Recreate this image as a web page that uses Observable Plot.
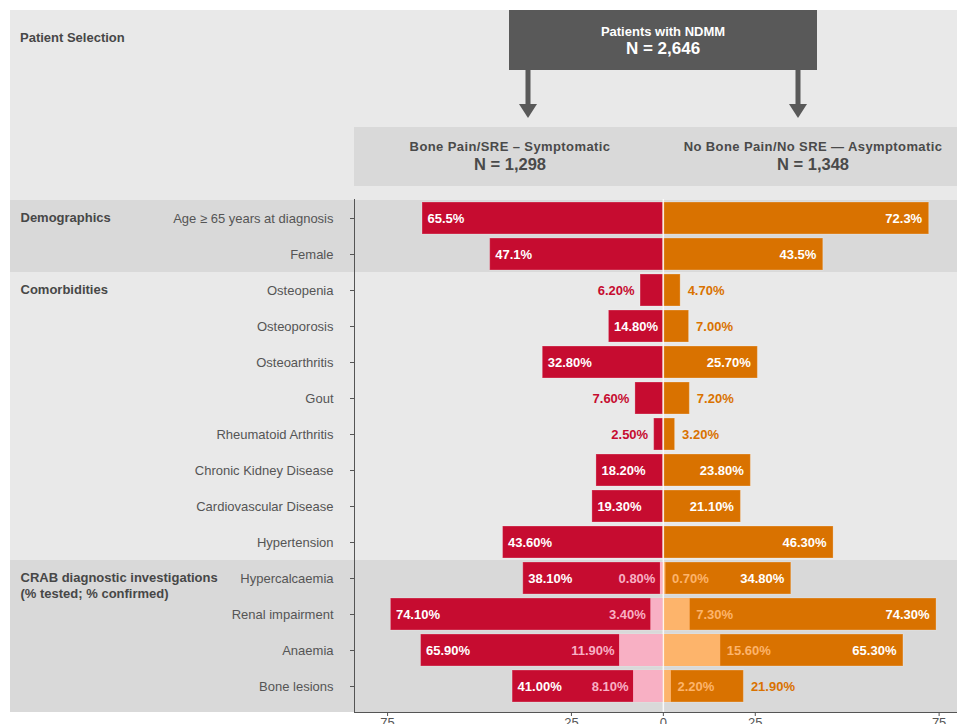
<!DOCTYPE html>
<html>
<head>
<meta charset="utf-8">
<script src="https://cdn.jsdelivr.net/npm/d3@7"></script>
<script src="https://cdn.jsdelivr.net/npm/@observablehq/plot@0.6"></script>
<style>
  html, body { margin: 0; padding: 0; background: #fff; overflow: hidden; }
  #wrap { position: relative; width: 957px; height: 724px; overflow: hidden; background: #fff;
          font-family: "Liberation Sans", Arial, Helvetica, sans-serif; color: #4a4a4a; }
  .abs { position: absolute; }
  .hdr { position: absolute; font-weight: bold; text-align: center; white-space: nowrap; transform: translate(-50%, -50%); }
</style>
</head>
<body>
<div id="wrap">
  <div class="abs" id="panel" style="left:10px; top:10px; width:947px; height:702px; background:#e9e9e9;"></div>
  <div id="bands"></div>
  <div class="abs" style="left:20px; top:37px; transform:translateY(-50%); font-weight:bold; font-size:13px; color:#474747;">Patient Selection</div>
  <div class="abs" style="left:509px; top:10px; width:308px; height:60px; background:#595959;"></div>
  <div class="hdr" style="left:663px; top:31px; color:#fff; font-size:13px;">Patients with NDMM</div>
  <div class="hdr" style="left:663px; top:49px; color:#fff; font-size:17px;">N = 2,646</div>
  <svg class="abs" style="left:0; top:0;" width="957" height="130">
    <rect x="525.5" y="70" width="5" height="35" fill="#595959"></rect>
    <polygon points="519,104 537,104 528,118" fill="#595959"></polygon>
    <rect x="795.5" y="70" width="5" height="35" fill="#595959"></rect>
    <polygon points="789,104 807,104 798,118" fill="#595959"></polygon>
  </svg>
  <div class="abs" style="left:354px; top:127px; width:603px; height:59px; background:#d9d9d9;"></div>
  <div class="hdr" style="left:510px; top:146px; font-size:13px; letter-spacing:0.4px;">Bone Pain/SRE – Symptomatic</div>
  <div class="hdr" style="left:510px; top:164px; font-size:16.5px;">N = 1,298</div>
  <div class="hdr" style="left:813px; top:146px; font-size:13px; letter-spacing:0.4px;">No Bone Pain/No SRE — Asymptomatic</div>
  <div class="hdr" style="left:813px; top:164px; font-size:16.5px;">N = 1,348</div>
  <div class="abs" id="chart" style="left:0; top:190px;"></div>
</div>
<script>
// ---------- data ----------
const groups = ["Demographics", "Comorbidities", "CRAB diagnostic investigations\n(% tested; % confirmed)"];
const rows = ["Age ≥ 65 years at diagnosis", "Female",
  "Osteopenia", "Osteoporosis", "Osteoarthritis", "Gout", "Rheumatoid Arthritis",
  "Chronic Kidney Disease", "Cardiovascular Disease", "Hypertension",
  "Hypercalcaemia", "Renal impairment", "Anaemia", "Bone lesions"];
const rowGroup = [0, 0, 1, 1, 1, 1, 1, 1, 1, 1, 2, 2, 2, 2];
const symptomatic = [65.5, 47.1, 6.2, 14.8, 32.8, 7.6, 2.5, 18.2, 19.3, 43.6, 38.1, 74.1, 65.9, 41.0];
const asymptomatic = [72.3, 43.5, 4.7, 7.0, 25.7, 7.2, 3.2, 23.8, 21.1, 46.3, 34.8, 74.3, 65.3, 21.9];
const symptomaticConfirmed = [null, null, null, null, null, null, null, null, null, null, 0.8, 3.4, 11.9, 8.1];
const asymptomaticConfirmed = [null, null, null, null, null, null, null, null, null, null, 0.7, 7.3, 15.6, 2.2];
const xTicks = [-75, -25, 0, 25, 75];

// ---------- style ----------
const RED = "#c60c30", ORANGE = "#d97200", PINK = "#f8b0c4", LORANGE = "#fdb46b";
const TXT = "#555";
const W = 957, SVGH = 534;
const M = {top: 9, right: 0, bottom: 12, left: 354};
const xDomain = [-84, 80];
const k = (W - M.left - M.right) / (xDomain[1] - xDomain[0]);
const FS = 13;

const data = rows.map((row, i) => ({
  row, i, group: rowGroup[i],
  sym: symptomatic[i], asym: asymptomatic[i],
  sc: symptomaticConfirmed[i], ac: asymptomaticConfirmed[i]
}));
const fmt = (v, g) => v.toFixed(g === 0 ? 1 : 2) + "%";
const textW = s => [...s].reduce((w, c) => w + (c === "%" ? 0.889 : c === "." ? 0.278 : 0.556), 0) * FS;

function mainLabels(side) {
  return data.map(d => {
    const v = side < 0 ? d.sym : d.asym;
    const c = side < 0 ? d.sc : d.ac;
    const t = fmt(v, d.group);
    const seg = (v - (c ?? 0)) * k;
    const need = textW(t) + 8 + (c != null ? textW(fmt(c, d.group)) + 8 : 0);
    return {row: d.row, x: side * v, text: t, inside: seg >= need};
  });
}
const symL = mainLabels(-1), asymL = mainLabels(1);
const crab = data.filter(d => d.sc != null);

const groupFirst = groups.map((g, gi) => rows[rowGroup.indexOf(gi)]);
const groupData = groups.map((g, gi) => ({name: g, row: groupFirst[gi]}));

const txt = {fontFamily: "Liberation Sans, Arial, sans-serif", fontWeight: "bold", fontSize: FS};

const chart = Plot.plot({
  width: W, height: SVGH,
  marginTop: M.top, marginRight: M.right, marginBottom: M.bottom, marginLeft: M.left,
  style: {background: "transparent", fontFamily: "Liberation Sans, Arial, sans-serif", color: TXT},
  x: {domain: xDomain, ticks: xTicks},
  y: {domain: rows, padding: 0, insetBottom: 7},
  marks: [
    Plot.barX(data, {y: "row", x1: d => -d.sym, x2: 0, fill: RED, insetTop: 2, insetBottom: 2, stroke: "#fff", strokeOpacity: 0.25}),
    Plot.barX(data, {y: "row", x1: 0, x2: d => d.asym, fill: ORANGE, insetTop: 2, insetBottom: 2, stroke: "#fff", strokeOpacity: 0.25}),
    Plot.barX(crab, {y: "row", x1: d => -d.sc, x2: 0, fill: PINK, insetTop: 2, insetBottom: 2}),
    Plot.barX(crab, {y: "row", x1: 0, x2: d => d.ac, fill: LORANGE, insetTop: 2, insetBottom: 2}),
    // main labels, symptomatic
    Plot.text(symL.filter(d => d.inside), {y: "row", x: "x", text: "text", textAnchor: "start", dx: 5, fill: "#fff", ...txt}),
    Plot.text(symL.filter(d => !d.inside), {y: "row", x: "x", text: "text", textAnchor: "end", dx: -6, fill: RED, ...txt}),
    // main labels, asymptomatic
    Plot.text(asymL.filter(d => d.inside), {y: "row", x: "x", text: "text", textAnchor: "end", dx: -7, fill: "#fff", ...txt}),
    Plot.text(asymL.filter(d => !d.inside), {y: "row", x: "x", text: "text", textAnchor: "start", dx: 7, fill: ORANGE, ...txt}),
    // confirmed labels
    Plot.text(crab, {y: "row", x: d => -d.sc, text: d => fmt(d.sc, d.group), textAnchor: "end", dx: -5, fill: PINK, ...txt}),
    Plot.text(crab, {y: "row", x: d => d.ac, text: d => fmt(d.ac, d.group), textAnchor: "start", dx: 6, fill: LORANGE, ...txt}),
    Plot.ruleX([0], {stroke: "#fff", strokeWidth: 1.5, strokeOpacity: 0.85}),
    Plot.axisY({anchor: "left", tickSize: 4, tickPadding: 17, fontSize: FS, label: null, stroke: TXT, fill: TXT}),
    Plot.axisX({anchor: "bottom", ticks: xTicks, tickFormat: d => Math.abs(d), tickSize: 4, tickPadding: 1, fontSize: FS, label: null, stroke: TXT, fill: TXT}),
    Plot.frame({anchor: "left", stroke: TXT}),
    Plot.frame({anchor: "bottom", stroke: TXT}),
    Plot.text(groupData, {y: "row", text: "name", frameAnchor: "left", dx: -334, textAnchor: "start",
      lineAnchor: "top", dy: -8, lineHeight: 1.25, fill: "#474747", ...txt})
  ]
});
document.getElementById("chart").appendChild(chart);

// shaded group bands, positioned from the y scale
const ys = chart.scale("y");
const bands = document.getElementById("bands");
groups.forEach((g, gi) => {
  if (gi % 2 !== 0) return;
  const gr = rows.filter((r, i) => rowGroup[i] === gi);
  const top = 190 + ys.apply(gr[0]);
  const isLast = gi === groups.length - 1;
  const bottom = isLast ? 190 + SVGH - M.bottom : 190 + ys.apply(gr[gr.length - 1]) + ys.step;
  const div = document.createElement("div");
  div.className = "abs";
  Object.assign(div.style, {left: "10px", width: "947px", top: top + "px", height: (bottom - top) + "px", background: "#d9d9d9"});
  bands.appendChild(div);
});
</script>
</body>
</html>
